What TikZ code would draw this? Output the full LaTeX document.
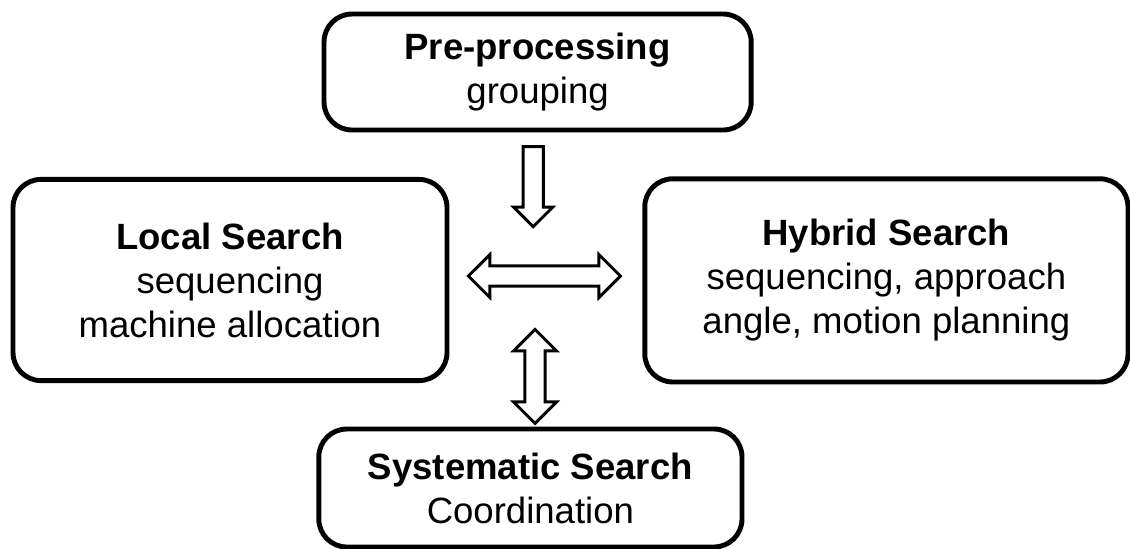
\documentclass[tikz,border=0pt]{standalone}
\usepackage{fontspec}
\setmainfont{Liberation Sans}
\usetikzlibrary{positioning, calc}
\usetikzlibrary{shapes.arrows}
\tikzset{
  stagebox/.style={draw, line width=3.5pt, rounded corners=0.7cm, inner sep=0pt,
    align=center, font=\fontsize{26}{31.3}\selectfont},
  flowarrow/.style={draw, line width=2.1pt, inner sep=0pt, inner ysep=0.215cm,
    single arrow, single arrow head extend=0.235cm},
  swaparrow/.style={draw, line width=2.1pt, inner sep=0pt, inner ysep=0.215cm,
    double arrow, double arrow head extend=0.285cm}
}
\begin{document}
\begin{tikzpicture}
                \useasboundingbox (0,0) rectangle (28.25,-13.7);
                \node[stagebox, minimum width=10.68cm, minimum height=2.9cm] (pre) at (13.44,-1.8) {\textbf{Pre-processing}\\grouping};
                \node[stagebox, minimum width=10.85cm, minimum height=5.03cm] (local) at (5.75,-7.0) {\textbf{Local Search}\\sequencing\\machine allocation};
                \node[stagebox, minimum width=12.08cm, minimum height=5.08cm] (hybrid) at (22.16,-7.01) {\textbf{Hybrid Search}\\sequencing, approach\\angle, motion planning};
                \node[stagebox, minimum width=10.58cm, minimum height=2.95cm] (sys) at (13.26,-12.2) {\textbf{Systematic Search}\\Coordination};
                \node[flowarrow, minimum height=2.0cm, rotate=-90] (down) at (13.33,-4.54) {};
                \node[swaparrow, minimum height=3.8cm] (across) at (13.61,-6.9) {};
                \node[swaparrow, minimum height=2.35cm, rotate=90] (updown) at (13.375,-9.41) {};
\end{tikzpicture}
\end{document}
